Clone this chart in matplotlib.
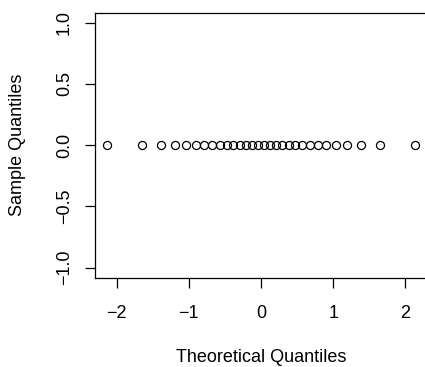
import matplotlib
matplotlib.use("Agg")
import matplotlib.pyplot as plt

theoretical = [-2.128, -1.645, -1.383, -1.192, -1.036, -0.903, -0.783, -0.674, -0.573, -0.477,
               -0.385, -0.297, -0.210, -0.126, -0.042, 0.042, 0.126, 0.210, 0.297, 0.385,
               0.477, 0.573, 0.674, 0.783, 0.903, 1.036, 1.192, 1.383, 1.645, 2.128]
sample = [0.0] * 30
x_ticks = [-2, -1, 0, 1, 2]
y_ticks = [-1.0, -0.5, 0.0, 0.5, 1.0]
x_ticklabels = ["\u22122", "\u22121", "0", "1", "2"]
y_ticklabels = ["\u22121.0", "\u22120.5", "0.0", "0.5", "1.0"]

plt.rcParams['font.family'] = ['Liberation Sans', 'DejaVu Sans']
W, H = 425, 367
fs = 13.0
fig = plt.figure(figsize=(W / 100, H / 100), dpi=100)
left, right, top, bottom = 95, 427, 12.9, 277.5
ax = fig.add_axes([left / W, 1 - bottom / H, (right - left) / W, (bottom - top) / H])

ax.plot(theoretical, sample, linestyle='none', marker='o', markersize=5.8,
        markerfacecolor='none', markeredgecolor='black', markeredgewidth=0.9)

ax.set_xlim(-2.298, 2.298)
ax.set_ylim(-1.08, 1.08)
ax.set_xticks(x_ticks)
ax.set_xticklabels(x_ticklabels)
ax.set_yticks(y_ticks)
ax.set_yticklabels(y_ticklabels, rotation=90, va='center')
for s in ax.spines.values():
    s.set_linewidth(0.9)
    s.set_color('black')
ax.tick_params(axis='both', length=7, width=0.9, labelsize=fs, colors='black')
ax.tick_params(axis='x', pad=13)
ax.tick_params(axis='y', pad=9)

fig.text(261 / W, 1 - 357 / H, "Theoretical Quantiles", ha='center', va='center', fontsize=fs)
fig.text(18 / W, 1 - 145 / H, "Sample Quantiles", ha='center', va='center', rotation=90, fontsize=fs)

fig.savefig("out.png", dpi=100)
